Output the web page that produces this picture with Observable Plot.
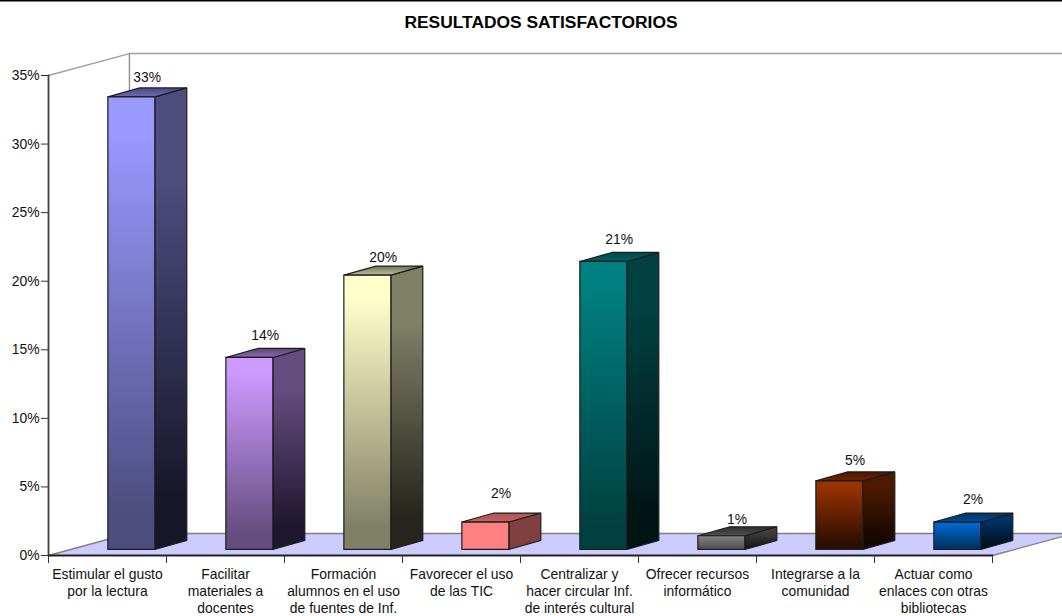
<!DOCTYPE html>
<html lang="es">
<head>
<meta charset="utf-8">
<title>Resultados satisfactorios</title>
<script src="https://cdn.jsdelivr.net/npm/d3@7"></script>
<script src="https://cdn.jsdelivr.net/npm/@observablehq/plot@0.6"></script>
<style>
html,body{margin:0;padding:0;background:#fff;overflow:hidden}
svg{display:block}
</style>
</head>
<body>
<div id="chart"></div>
<script>
const chartTitle = "RESULTADOS SATISFACTORIOS";
const categories = [
  "Estimular el gusto\npor la lectura",
  "Facilitar\nmateriales a\ndocentes",
  "Formación\nalumnos en el uso\nde fuentes de Inf.",
  "Favorecer el uso\nde las TIC",
  "Centralizar y\nhacer circular Inf.\nde interés cultural",
  "Ofrecer recursos\ninformático",
  "Integrarse a la\ncomunidad",
  "Actuar como\nenlaces con otras\nbibliotecas"
];
const values = [33, 14, 20, 2, 21, 1, 5, 2];
const yTicks = [0, 5, 10, 15, 20, 25, 30, 35];

// [front top, front bottom, side top, side bottom, top back, top front]
const barColors = [
  ["#9999ff","#4d4d80","#4d4d80","#17172a","#4a4a85","#6c6cb5"],
  ["#cc99ff","#664d80","#664d80","#1f1730","#5a4478","#8e6cb5"],
  ["#ffffcc","#808066","#808066","#26261e","#70705a","#c2c29c"],
  ["#ff8080","#ff8080","#804040","#804040","#b05858","#c06060"],
  ["#008080","#004040","#004040","#001414","#004a4a","#006262"],
  ["#808080","#505050","#404040","#1a1a1a","#2e2e2e","#505050"],
  ["#993300","#2a0e00","#4d1a00","#140600","#4a1800","#6e2400"],
  ["#0066cc","#003366","#003366","#00101f","#003366","#004c99"]
];
const labelLift = [19, 22, 18, 28, 22, 16, 20, 22];

// Perspective depths, expressed in the chart's own units
const wallX = 0.686, wallY = 1.6;
const barLeft = 0.503, barWidth = 0.398, barBase = 0.44;
const depthX = 0.271, depthY = 0.656;

const closed = pts => [...pts, pts[0]].map(([x, y]) => ({x, y}));
const face = (pts, fill, stroke, strokeWidth) =>
  Plot.line(closed(pts), {x: "x", y: "y", fill, stroke, strokeWidth, strokeLinejoin: "miter", curve: "linear"});
const seg = (pts, stroke, strokeWidth) =>
  Plot.line(pts.map(([x, y]) => ({x, y})), {x: "x", y: "y", stroke, strokeWidth, curve: "linear"});

const defs = () => {
  const d = d3.create("svg:defs");
  barColors.forEach((c, i) => {
    [["front", c[0], c[1], 8, 92], ["side", c[2], c[3], 20, 88], ["top", c[4], c[5], 0, 100]].forEach(([name, a, b, p, q]) => {
      const g = d.append("linearGradient").attr("id", `${name}${i}`)
        .attr("x1", 0).attr("y1", 0).attr("x2", 0).attr("y2", 1);
      g.append("stop").attr("offset", `${p}%`).attr("stop-color", a);
      g.append("stop").attr("offset", `${q}%`).attr("stop-color", b);
    });
  });
  return d.node();
};

const barMarks = values.flatMap((v, i) => {
  const x0 = i + barLeft, x1 = x0 + barWidth, b = barBase, t = v + barBase;
  const edge = "#1c1c1c";
  return [
    face([[x1, b], [x1 + depthX, b + depthY], [x1 + depthX, t + depthY], [x1, t]], `url(#side${i})`, edge, 1.2),
    face([[x0, t], [x1, t], [x1 + depthX, t + depthY], [x0 + depthX, t + depthY]], `url(#top${i})`, edge, 1.2),
    face([[x0, b], [x1, b], [x1, t], [x0, t]], `url(#front${i})`, edge, 1.2)
  ];
});

const n = categories.length;
const yMax = yTicks[yTicks.length - 1];
const fs = 13.9;
const chart = Plot.plot({
  width: 1062,
  height: 616,
  margin: 0,
  x: {type: "linear", domain: [0, n], range: [48, 992], axis: null},
  y: {type: "linear", domain: [0, yMax], range: [555, 75], axis: null},
  style: {fontFamily: "'Liberation Sans', Arial, sans-serif", background: "#fff", color: "#000"},
  marks: [
    defs,
    Plot.frame({anchor: "top", stroke: "#000", strokeWidth: 2}),
    // floor and walls
    face([[0, 0], [n, 0], [n + wallX, wallY], [wallX, wallY]], "#ccccff", "none", 0),
    seg([[0, 0], [wallX, wallY], [n + wallX, wallY]], "#808080", 1.6),
    seg([[n, 0], [n + wallX, wallY]], "#808080", 1.3),
    seg([[0, yMax], [wallX, yMax + wallY], [n + wallX, yMax + wallY]], "#a0a0a0", 1.4),
    seg([[wallX, wallY], [wallX, yMax + wallY]], "#909090", 1.4),
    // axes
    seg([[0, 0], [0, yMax]], "#404040", 1.8),
    seg([[0, 0], [n, 0]], "#202020", 1.8),
    Plot.ruleY(yTicks, {x1: -0.06, x2: 0, y: d => d, stroke: "#333", strokeWidth: 1}),
    Plot.ruleX(d3.range(n + 1), {x: d => d, y1: -0.58, y2: 0, stroke: "#333", strokeWidth: 1}),
    Plot.text(yTicks, {x: 0, y: d => d, text: d => `${d}%`, textAnchor: "end", dx: -9, fontSize: fs, fill: "#111"}),
    // bars
    ...barMarks,
    Plot.text(values, {
      x: (d, i) => i + barLeft + barWidth / 2 + depthX / 2,
      y: d => d + barBase,
      text: d => `${d}%`,
      fontSize: fs,
      fill: "#111",
      render(index, scales, channels, dimensions, context, next) {
        const g = next(index, scales, channels, dimensions, context);
        d3.select(g).selectAll("text").attr("transform", function (_, k) {
          const i = index[k];
          return `translate(${channels.x[i] - 0.2},${channels.y[i] - labelLift[i]})`;
        });
        return g;
      }
    }),
    Plot.text(categories, {
      x: (d, i) => i + 0.5,
      y: 0,
      dy: 11,
      text: d => d,
      lineAnchor: "top",
      lineHeight: 1.23,
      fontSize: fs,
      fill: "#111"
    }),
    Plot.text([chartTitle], {frameAnchor: "top", dx: 9.5, dy: 15, text: d => d, lineAnchor: "top", fontSize: 17.4, fontWeight: "bold", fill: "#000"})
  ]
});
document.getElementById("chart").append(chart);
</script>
</body>
</html>
